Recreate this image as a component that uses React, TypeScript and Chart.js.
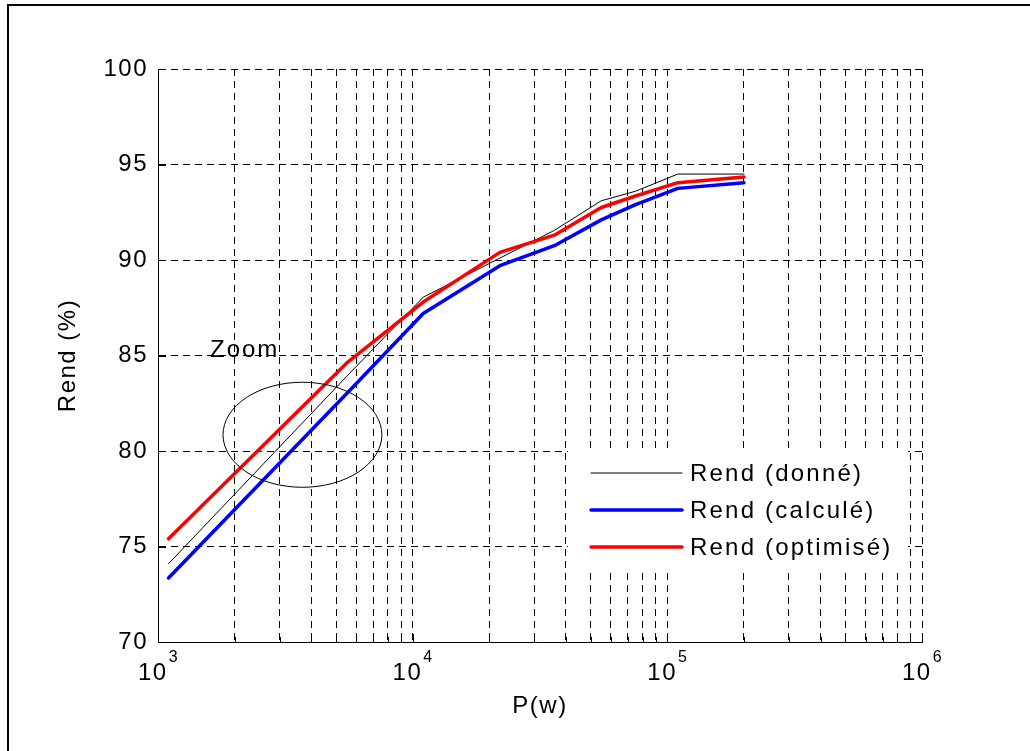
import React, { useEffect, useRef } from 'react';
import { Chart, registerables } from 'chart.js';

Chart.register(...registerables);

// ---- data ----
const P_W = [1100, 5500, 11000, 22000, 36000, 55000, 75000, 110000, 200000];
const REND_DONNE = [74.1, 83.9, 88.05, 90.1, 91.55, 93.1, 93.6, 94.5, 94.5];
const REND_CALCULE = [73.35, 83.0, 87.2, 89.7, 90.75, 92.1, 92.9, 93.75, 94.05];
const REND_OPTIMISE = [75.4, 84.6, 87.8, 90.4, 91.3, 92.75, 93.35, 94.05, 94.35];
const SERIES_LABELS = ['Rend (donné)', 'Rend (calculé)', 'Rend (optimisé)'];
const SERIES_COLORS = ['#000000', '#0000ff', '#ff0000'];
const SERIES_WIDTHS = [1, 3.5, 3.5];

const X_DECADE_EXPONENTS = [3, 4, 5, 6];
const X_MINOR_MULTIPLIERS = [1, 2, 3, 4, 5, 6, 7, 8, 9];
const Y_TICKS = [70, 75, 80, 85, 90, 95, 100];

const X_TITLE = 'P(w)';
const Y_TITLE = 'Rend (%)';

// zoom annotation (data units)
const ZOOM_ELLIPSE_X = [1800, 7570];
const ZOOM_ELLIPSE_Y = [78.1, 83.6];
const ZOOM_LABEL = 'Zoom';
const ZOOM_LABEL_POS = [1600, 84.9];

const FONT = '"Liberation Sans", Arial, Helvetica, sans-serif';

const X_TICK_VALUES: number[] = [];
X_DECADE_EXPONENTS.forEach((e, i) => {
  if (i === X_DECADE_EXPONENTS.length - 1) {
    X_TICK_VALUES.push(Math.pow(10, e));
  } else {
    X_MINOR_MULTIPLIERS.forEach((m) => X_TICK_VALUES.push(m * Math.pow(10, e)));
  }
});

const extrasPlugin = {
  id: 'extras',
  beforeDraw(chart: any) {
    const ctx = chart.ctx;
    ctx.save();
    ctx.fillStyle = '#ffffff';
    ctx.fillRect(0, 0, chart.width, chart.height);
    ctx.fillStyle = '#000000';
    ctx.fillRect(7, 4, chart.width - 7, 2);
    ctx.fillRect(7, 4, 2, chart.height - 4);
    ctx.restore();
    try { ctx.letterSpacing = '1.5px'; } catch (e) {}
  },
  afterDraw(chart: any) {
    const ctx = chart.ctx;
    const xs = chart.scales.x;
    const ys = chart.scales.y;
    const area = chart.chartArea;
    ctx.save();

    // tick marks (inward)
    ctx.strokeStyle = '#000';
    ctx.lineWidth = 1;
    ctx.setLineDash([]);
    X_TICK_VALUES.forEach((v) => {
      const px = Math.round(xs.getPixelForValue(v)) + 0.5;
      const isMajor = Math.abs(Math.log10(v) - Math.round(Math.log10(v))) < 1e-9;
      ctx.beginPath();
      ctx.moveTo(px, area.bottom);
      ctx.lineTo(px, area.bottom - (isMajor ? 8 : 5));
      ctx.stroke();
    });
    Y_TICKS.forEach((v) => {
      const py = Math.round(ys.getPixelForValue(v)) + 0.5;
      ctx.beginPath();
      ctx.moveTo(area.left, py);
      ctx.lineTo(area.left + 8, py);
      ctx.stroke();
    });

    // x tick labels 10^n
    ctx.fillStyle = '#000';
    ctx.textBaseline = 'alphabetic';
    ctx.textAlign = 'left';
    X_DECADE_EXPONENTS.forEach((e) => {
      const px = xs.getPixelForValue(Math.pow(10, e));
      ctx.font = `24px ${FONT}`;
      const wBase = ctx.measureText('10').width;
      ctx.font = `16px ${FONT}`;
      const wExp = ctx.measureText(String(e)).width;
      const start = px - (wBase + wExp) / 2;
      ctx.font = `24px ${FONT}`;
      ctx.fillText('10', start, area.bottom + 38);
      ctx.font = `16px ${FONT}`;
      ctx.fillText(String(e), start + wBase + 1, area.bottom + 20);
    });

    // zoom ellipse
    const x1 = xs.getPixelForValue(ZOOM_ELLIPSE_X[0]);
    const x2 = xs.getPixelForValue(ZOOM_ELLIPSE_X[1]);
    const y1 = ys.getPixelForValue(ZOOM_ELLIPSE_Y[0]);
    const y2 = ys.getPixelForValue(ZOOM_ELLIPSE_Y[1]);
    ctx.beginPath();
    ctx.ellipse((x1 + x2) / 2, (y1 + y2) / 2, Math.abs(x2 - x1) / 2, Math.abs(y1 - y2) / 2, 0, 0, Math.PI * 2);
    ctx.lineWidth = 1;
    ctx.strokeStyle = '#000';
    ctx.stroke();
    ctx.font = `24px ${FONT}`;
    try { ctx.letterSpacing = '2px'; } catch (e) {}
    ctx.fillText(ZOOM_LABEL, xs.getPixelForValue(ZOOM_LABEL_POS[0]), ys.getPixelForValue(ZOOM_LABEL_POS[1]));

    // legend
    const boxRight = area.right - 14;
    const boxBottom = area.bottom - 72;
    const boxW = 340;
    const boxH = 119;
    const boxLeft = boxRight - boxW;
    const boxTop = boxBottom - boxH;
    ctx.fillStyle = '#ffffff';
    ctx.fillRect(boxLeft, boxTop, boxW, boxH);
    ctx.textBaseline = 'middle';
    try { ctx.letterSpacing = '2.2px'; } catch (e) {}
    SERIES_LABELS.forEach((lab, i) => {
      const ly = boxTop + 22 + i * 37;
      ctx.beginPath();
      ctx.strokeStyle = SERIES_COLORS[i];
      ctx.lineWidth = SERIES_WIDTHS[i];
      ctx.lineCap = 'round';
      ctx.moveTo(boxLeft + 23, ly);
      ctx.lineTo(boxLeft + 114, ly);
      ctx.stroke();
      ctx.fillStyle = '#000';
      ctx.font = `24px ${FONT}`;
      ctx.fillText(lab, boxLeft + 122, ly + 1);
    });
    ctx.restore();
  },
};

export default function App() {
  const ref = useRef<HTMLCanvasElement | null>(null);
  useEffect(() => {
    if (!ref.current) return;
    const seriesValues = [REND_DONNE, REND_CALCULE, REND_OPTIMISE];
    const chart = new Chart(ref.current, {
      type: 'line',
      data: {
        datasets: SERIES_LABELS.map((label, i) => ({
          label,
          data: P_W.map((p, j) => ({ x: p, y: seriesValues[i][j] })),
          borderColor: SERIES_COLORS[i],
          borderWidth: SERIES_WIDTHS[i],
          pointRadius: 0,
          tension: 0,
          fill: false,
          order: 2 - i,
          borderCapStyle: 'round',
          borderJoinStyle: 'round',
        })),
      },
      options: {
        animation: false,
        responsive: false,
        devicePixelRatio: 1,
        layout: { padding: { left: 0, right: 108, top: 69, bottom: 0 } },
        plugins: { legend: { display: false }, tooltip: { enabled: false } },
        scales: {
          x: {
            type: 'logarithmic',
            min: 1000,
            max: 1000000,
            afterBuildTicks: (scale: any) => {
              scale.ticks = X_TICK_VALUES.map((v) => ({ value: v }));
            },
            afterFit: (scale: any) => { scale.height = 109; },
            ticks: { display: false, autoSkip: false },
            grid: { color: '#000000', lineWidth: 1, drawTicks: false },
            border: { display: true, color: '#000', width: 1, dash: [7, 5] },
            title: {
              display: true,
              text: X_TITLE,
              color: '#000',
              font: { family: FONT, size: 24 },
              padding: { top: 0, bottom: 30 },
            },
          },
          y: {
            type: 'linear',
            min: 70,
            max: 100,
            afterBuildTicks: (scale: any) => {
              scale.ticks = Y_TICKS.map((v) => ({ value: v }));
            },
            afterFit: (scale: any) => { scale.width = 158; },
            ticks: { color: '#000', font: { family: FONT, size: 24 }, padding: 10, autoSkip: false },
            grid: { color: '#000000', lineWidth: 1, drawTicks: false },
            border: { display: true, color: '#000', width: 1, dash: [7, 5] },
            title: {
              display: true,
              text: Y_TITLE,
              color: '#000',
              font: { family: FONT, size: 24 },
              padding: { top: 54, bottom: 0 },
            },
          },
        },
      },
      plugins: [extrasPlugin],
    } as any);
    return () => chart.destroy();
  }, []);

  return (
    <div style={{ position: 'absolute', left: 0, top: 0, width: 1030, height: 751, background: '#fff' }}>
      <canvas ref={ref} width={1030} height={751} style={{ display: 'block', width: 1030, height: 751 }} />
    </div>
  );
}
